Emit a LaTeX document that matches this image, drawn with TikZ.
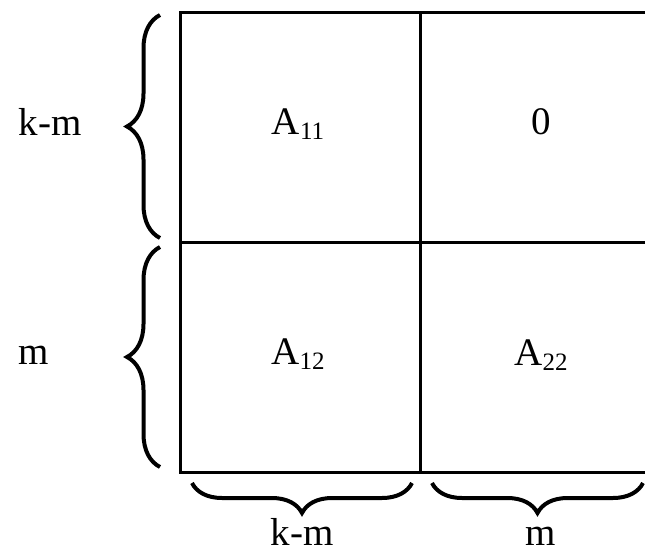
\documentclass[tikz,border=0pt]{standalone}
\usepackage{fontspec}
\setmainfont{Liberation Serif}
\usetikzlibrary{decorations.pathreplacing}
\newcommand{\subidx}[1]{\raisebox{-5pt}{\fontsize{25}{25}\selectfont #1}}

\begin{document}
\begin{tikzpicture}[x=1pt, y=-1pt,
        every node/.style={font=\fontsize{39}{41}\selectfont, inner sep=0pt, anchor=base},
        grid/.style={line width=3pt},
        curly/.style={decorate, decoration={brace, amplitude=#1}, line width=4pt}
      ]
        \useasboundingbox (0,0) rectangle (645,552);
        % the block matrix
        \draw[grid] (645,12.5) -- (180,12.5) -- (180,472) -- (645,472);
        \draw[grid] (420,12.5) -- (420,472);
        \draw[grid] (180,242) -- (645,242);
        \node (a11) at (298,134) {A\subidx{11}};
        \node (zero) at (541,134) {0};
        \node (a12) at (298,364) {A\subidx{12}};
        \node (a22) at (541,365) {A\subidx{22}};
        % row sizes
        \draw[curly=33] (160,238) -- (160,15);
        \draw[curly=33] (160,467) -- (160,247);
        \node (rowkm) at (50,135) {k-m};
        \node (rowm) at (34,364) {m};
        % column sizes
        \draw[curly=30] (412,483) -- (192,483);
        \draw[curly=30] (643,483) -- (432,483);
        \node (colkm) at (302,545) {k-m};
        \node (colm) at (541,545) {m};
      \end{tikzpicture}
\end{document}
